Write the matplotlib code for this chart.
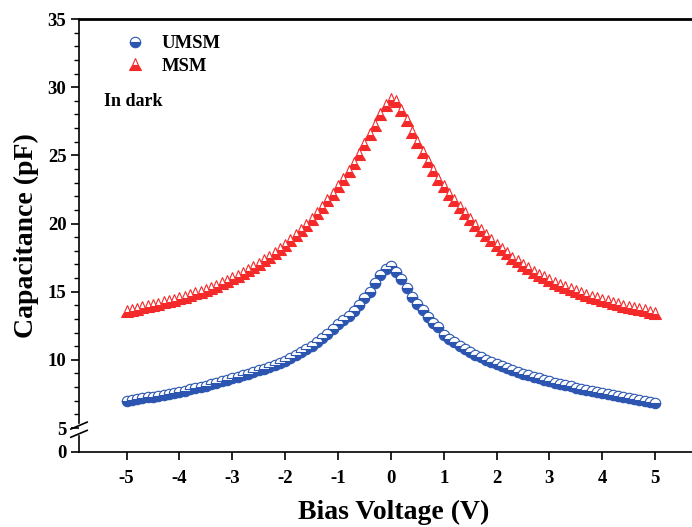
import numpy as np
import matplotlib
matplotlib.use("Agg")
import matplotlib.pyplot as plt

plt.rcParams['font.family'] = ['Liberation Serif', 'DejaVu Serif']
plt.rcParams['font.weight'] = 'bold'
plt.rcParams['axes.unicode_minus'] = False

# bias voltage, -5 V to 5 V in 0.1 V steps
voltage = np.linspace(-5, 5, 101)

umsm = [
    6.98, 7.05, 7.12, 7.18, 7.24, 7.30, 7.36, 7.42, 7.48, 7.56,
    7.65, 7.74, 7.83, 7.92, 8.01, 8.11, 8.21, 8.32, 8.43, 8.54,
    8.66, 8.77, 8.88, 8.99, 9.10, 9.22, 9.34, 9.47, 9.60, 9.77,
    9.95, 10.15, 10.37, 10.58, 10.80, 11.05, 11.30, 11.60, 11.90, 12.25,
    12.60, 12.90, 13.20, 13.60, 14.05, 14.50, 15.00, 15.60, 16.25, 16.65,
    16.85,
    16.45, 15.90, 15.28, 14.62, 14.12, 13.65, 13.16, 12.72, 12.38, 11.85,
    11.55, 11.28, 11.03, 10.80, 10.58, 10.38, 10.19, 10.01, 9.84, 9.68,
    9.53, 9.39, 9.25, 9.12, 8.99, 8.87, 8.75, 8.64, 8.53, 8.43,
    8.33, 8.23, 8.14, 8.05, 7.96, 7.88, 7.80, 7.72, 7.64, 7.57,
    7.50, 7.43, 7.36, 7.29, 7.22, 7.15, 7.08, 7.00, 6.92, 6.82,
]

msm = [
    13.57, 13.66, 13.75, 13.84, 13.93, 14.02, 14.11, 14.21, 14.31, 14.41,
    14.52, 14.63, 14.75, 14.87, 15.00, 15.14, 15.29, 15.45, 15.62, 15.80,
    15.98, 16.17, 16.37, 16.58, 16.80, 17.05, 17.30, 17.57, 17.85, 18.15,
    18.45, 18.80, 19.15, 19.50, 19.90, 20.30, 20.75, 21.20, 21.70, 22.20,
    22.75, 23.30, 23.85, 24.42, 25.10, 25.80, 26.55, 27.25, 28.00, 28.70,
    29.15,
    29.00, 28.35, 27.60, 26.70, 26.00, 25.25, 24.55, 23.90, 23.30, 22.75,
    22.20, 21.70, 21.20, 20.75, 20.30, 19.90, 19.50, 19.15, 18.80, 18.45,
    18.10, 17.80, 17.50, 17.22, 16.95, 16.70, 16.47, 16.25, 16.05, 15.85,
    15.67, 15.50, 15.33, 15.17, 15.02, 14.88, 14.75, 14.62, 14.50, 14.39,
    14.28, 14.18, 14.08, 13.98, 13.89, 13.80, 13.71, 13.62, 13.54, 13.46,
]

blue = '#2b55b0'
red = '#f42a2a'

# compressed region below the axis break
k = 0.352


def fwd(y):
    y = np.asarray(y, dtype=float)
    return np.where(y >= 5, y, 5 - (5 - y) * k)


def inv(y):
    y = np.asarray(y, dtype=float)
    return np.where(y >= 5, y, 5 - (5 - y) / k)


fig = plt.figure(figsize=(6.92, 5.27), dpi=100)
ax = fig.add_axes([79 / 692, 75 / 527, 629 / 692, 433 / 527])

ax.plot(voltage, umsm, 'o', ms=7.5, mec=blue, mew=0.8, mfc=blue,
        fillstyle='bottom', markerfacecoloralt='white', label='UMSM')
ax.plot(voltage, msm, '^', ms=8, mec=red, mew=0.8, mfc=red,
        fillstyle='bottom', markerfacecoloralt='white', label='MSM')

ax.set_yscale('function', functions=(fwd, inv))
ax.set_ylim(0, 35)
ax.set_xlim(-5.9, 6)
ax.set_xticks(np.arange(-5, 6))
ax.set_yticks(np.arange(0, 36, 5))
ax.set_yticks([v for v in range(6, 35) if v % 5], minor=True)

ax.tick_params(axis='both', direction='out', labelsize=13.5, width=1.2)
ax.tick_params(axis='both', which='major', length=6)
ax.tick_params(axis='y', which='minor', length=3.5, width=1.0)
ax.tick_params(axis='x', pad=7)
ax.tick_params(axis='y', pad=3)
for lab in ax.get_xticklabels() + ax.get_yticklabels():
    lab.set_fontweight('bold')

for s in ax.spines.values():
    s.set_linewidth(1.2)
ax.spines['top'].set_linewidth(2)

# broken left axis
ax.spines['left'].set_visible(False)
tr = ax.transAxes
ax.plot([0, 0], [0.067, 1], color='black', lw=1.2, transform=tr, clip_on=False)
ax.plot([0, 0], [0, 0.036], color='black', lw=1.2, transform=tr, clip_on=False)
for yc in (0.061, 0.042):
    ax.plot([-0.013, 0.013], [yc - 0.008, yc + 0.008], color='black', lw=1.2,
            transform=tr, clip_on=False)

ax.set_xlabel('Bias Voltage (V)', fontsize=20, fontweight='bold', labelpad=9)
ax.set_ylabel('Capacitance (pF)', fontsize=20, fontweight='bold', labelpad=6)

ax.legend(loc='upper left', bbox_to_anchor=(0.06, 0.98), frameon=False,
          prop={'size': 13.5, 'weight': 'bold'}, handlelength=1.2,
          handletextpad=0.8, labelspacing=0.3, borderaxespad=0)
ax.text(0.04, 0.81, 'In dark', transform=tr, fontsize=13, fontweight='bold',
        va='center', ha='left')

fig.savefig('out.png', dpi=100)
